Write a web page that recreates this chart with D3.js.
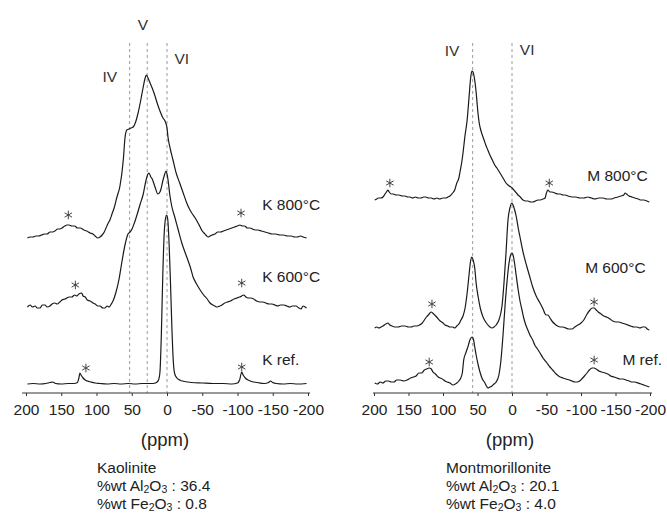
<!DOCTYPE html>
<html>
<head>
<meta charset="utf-8">
<script src="https://cdn.jsdelivr.net/npm/d3@7"></script>
<style>
  html, body { margin: 0; padding: 0; background: #fff; }
  svg { display: block; font-family: "Liberation Sans", Arial, Helvetica, sans-serif; }
</style>
</head>
<body>
<svg id="chart" width="667" height="513"></svg>
<script>
// ---------- DATA ----------
const tickValues = [200, 150, 100, 50, 0, -50, -100, -150, -200];

// Kaolinite spectra: [ppm, intensity]
const kRef = [[198,0],[190,0.5],[180,0],[172,0.5],[166,1.5],[162,2],[158,0.5],[150,0],[140,0.5],[132,0.5],[127,1.5],[125,6],[123.5,11],[122,9],[119,6],[116,4],[113,3],[108,2],[102,1],[95,0.5],[85,0],[75,0.5],[65,0],[55,0.5],[45,0],[35,0.5],[25,0.5],[20,0.5],[15,1.5],[12,4],[10,12],[8,50],[6,108],[4,150],[2,166],[0.5,169],[-1,165],[-3,140],[-5,100],[-7,55],[-9,22],[-11,10],[-14,6],[-18,4],[-25,2.5],[-35,1.5],[-50,1],[-65,0.5],[-80,0.5],[-92,0],[-100,1],[-103,4],[-106,12],[-108,9],[-111,6],[-115,4],[-120,2.5],[-128,1.5],[-138,0.5],[-144,1.5],[-147,3],[-150,1.5],[-155,0.5],[-165,0],[-175,0.5],[-185,0],[-198,0.5]];
const k600 = [[198,0],[194,2],[191,0],[187,1],[184,-1],[180,-1],[177,2],[173,2],[170,0],[166,1],[163,3],[159,4],[156,3],[152,5],[149,7],[145,8],[142,9],[139,10],[135,10],[131,12],[128,11],[125,13],[121,14],[119,11],[116,10],[113,7],[109,6],[105,4],[102,3],[98,1],[95,1],[91,-1],[88,-1],[85,1],[82,0],[79,3],[76.6,6],[72.3,15],[68,28],[64,45],[59.6,62],[55.3,73],[52.5,75],[49.6,78],[46.8,83],[42.6,92],[38,103],[34,112],[30,126],[27,133],[25.5,134],[23,130],[21,128],[17,120],[13,113],[10,115],[8.5,118],[6,126],[4,131],[1.5,136],[0,133],[-1.5,127],[-4,112],[-7,100],[-11,90],[-15.6,78],[-21,64],[-28,50],[-33,40],[-37,30],[-42,23],[-47,17],[-52,12],[-57,8],[-61,4],[-65,2],[-68,1],[-71,0],[-75,1],[-78,2],[-82,4],[-86,5],[-90,6],[-95,8],[-99,9],[-103,10],[-106,11],[-109,12],[-112,10],[-115,9],[-119,9],[-123,8],[-127,6],[-132,5],[-136,5],[-140,4],[-145,3],[-149,3],[-153,2],[-157,1],[-161,2],[-166,2],[-170,1],[-174,0],[-178,1],[-183,1],[-187,-1],[-190,-2],[-193,1],[-196,0],[-198,-1]];
const k800 = [[198,0],[194,1],[190,1],[186,2],[182,2],[178,3],[174,4],[170,4],[166,6],[162,6],[159,7],[155,9],[152,9],[149,10],[145,12],[142,13],[139,13],[135,12],[131,12],[127,10],[123,10],[118,8],[114,7],[109,5],[105,4],[102,2],[98,0],[95,1],[92,3],[89,6],[86.5,10],[84,14],[81,18],[78,24],[75,30],[71,41],[66.7,52],[62,78],[59.6,100],[57,108],[54,109],[51,110],[48,111],[45,115],[41,125],[38,135],[34,150],[31,160],[29.5,163],[27,160],[24,155],[21,150],[17,142],[14,135],[10,127],[5.7,120],[2.8,117],[0,110],[-1.4,101],[-5,88],[-8.5,78],[-13,65],[-18,55],[-23,45],[-28,35],[-32.6,28],[-36,24],[-40,20],[-44,15],[-47,11],[-50,7],[-52.5,5],[-55,3],[-58,1],[-61,2],[-64,3],[-68,4],[-72,6],[-76,6],[-80,7],[-84,8],[-88,9],[-92,10],[-96,11],[-100,12],[-103.5,13],[-107,12],[-110,12],[-114,10],[-118,10],[-121,9],[-125,8],[-129,8],[-134,7],[-139,6],[-144,5],[-149,4],[-154,4],[-160,3],[-165,3],[-171,2],[-176,2],[-181,1],[-185,1],[-189,2],[-193,1],[-198,0]];

// Montmorillonite spectra: [ppm, intensity]
const mRef = [[199,2],[195,1],[191,3],[187,2],[183,4],[179,4],[175,3],[171,3],[167,5],[162,5],[157,4],[152,5],[147,7],[143,8],[139,9],[135,12],[131,12],[127,15],[124,16],[120,17],[117,16],[114.5,13],[111,11],[107,8],[104,7],[101,6],[97,4],[94,3],[90,2],[85.5,0],[82,1],[80,2],[77,4],[75,6],[72,12],[70,25],[67,32],[64,38],[61,45],[58,48],[56,46],[54,38],[52,30],[49,20],[46,12],[43,6],[40,3],[37,-1],[35,-3],[32,-2],[29,-1],[26,1],[23,3],[19,10],[16,25],[13,50],[10,80],[7,105],[4.3,122],[1.4,131],[0,132],[-1.5,130],[-3,125],[-6,110],[-9,95],[-11.6,84],[-14.5,75],[-17,67],[-20,60],[-23,55],[-26,50],[-30,45],[-33,40],[-37,36],[-40.6,32],[-45,27],[-50.7,22],[-55,18],[-59,15],[-64,11],[-69.6,8],[-74,7],[-78,6],[-83,5],[-87,4],[-91,3],[-94,3],[-98,4],[-101,6],[-105,9],[-108.7,12],[-112,15],[-116,17],[-119,17],[-122,16],[-126,14],[-130,13],[-135,12],[-139,11],[-143,9],[-148,8],[-152,7],[-156.5,6],[-161,6],[-165,5],[-170,4],[-174,3],[-178,3],[-182.6,2],[-187,1],[-191,0],[-195,-1],[-199,-2]];
const m600 = [[199,0],[196,1],[193,0],[190,1],[187,2],[183,4],[180,5],[177,3],[174,2],[170,1],[165,1],[160,2],[155,2],[150,1],[146,1],[142,2],[138,2],[134,3],[130,5],[127,8],[124,11],[120,14],[117,16],[115,15],[112,13],[108,10],[104,7],[100,5],[97,3],[93,2],[90,1],[86,1],[83,0],[80,2],[77,4],[74,8],[71,12],[68,20],[65,35],[62,55],[60,67],[58,71],[56,67],[54,60],[52,45],[49,31],[46,20],[42,11],[39,7],[36,4],[32,1],[29,0],[26,1],[23,3],[19,8],[16.5,14],[14.5,22],[11.6,45],[8.7,75],[5.8,108],[3,120],[0,125],[-1.5,123],[-3,120],[-6,112],[-9,100],[-11.6,91],[-16,76],[-21.7,61],[-25,53],[-30,41],[-35,32],[-40.6,25],[-45,19],[-48,14],[-50,13],[-52,13],[-55,10],[-59,6],[-62,4],[-66,2],[-70,1],[-74,1],[-78,0],[-82,-1],[-87,-1],[-91,1],[-95.6,3],[-100,5],[-104,8],[-108,13],[-113,18],[-116,20],[-119,20],[-122,18],[-125,16],[-129,14],[-133,12],[-137,11],[-142,9],[-146,7],[-151,6],[-155,6],[-159,5],[-164,4],[-168,3],[-172,2],[-177,1],[-181,1],[-185.5,0],[-189,1],[-193,1],[-196,-1],[-199,-2]];
const m800 = [[199,0],[196,1],[194,2],[190,2],[187,3],[184,6],[181,9],[180,10],[178,8],[175,6],[172,6],[168,5],[164,5],[159,4],[155,4],[151,3],[148,3],[144,2],[140,3],[136,2],[132,2],[128,3],[125,3],[121,2],[117,2],[113,1],[109,2],[105,1],[100,2],[96,2],[93,3],[90,4],[86,7],[83,10],[80,17],[77,22],[75.4,28],[73,37],[71,47],[69.5,56],[68,65],[66.5,72],[65,80],[63.5,92],[62,105],[60.5,118],[59.4,125],[58,129],[56.5,128],[55,124],[53.5,117],[52,108],[50.5,96],[49,85],[47.5,77],[46,72],[44,67],[42,63],[40,59],[38,55],[35,50],[32,45],[28.5,40],[25,35],[21,31],[17.4,27],[13,22],[8.7,17],[4,14],[0,12],[-4,9],[-8.7,5],[-12,3],[-16,0],[-20,-1],[-23,-1],[-27,-2],[-30,-2],[-34,-1],[-37.7,0],[-41,0],[-45,1],[-48,2],[-49.5,6],[-51,9],[-52,10],[-55,8],[-58,8],[-62,7],[-66.7,6],[-70,6],[-74,5],[-77,5],[-81,4],[-87,3],[-92,3],[-98.5,2],[-104,2],[-110,3],[-115,2],[-120,1],[-126,2],[-132,2],[-137,1],[-143.5,1],[-148,2],[-153.6,3],[-158,4],[-162,5],[-164,7],[-166,6],[-169.6,4],[-174,3],[-178,2],[-183,1],[-187,0],[-191,0],[-195.7,-1],[-199,-2]];

// series names and vertical offsets (stacking)
const kNames = ["K ref.", "K 600°C", "K 800°C"];
const kOffsets = [9, 86, 155];
const mNames = ["M ref.", "M 600°C", "M 800°C"];
const mOffsets = [8, 65, 193];

// reference lines (ppm) and their labels
const kSites = [53, 28, 0];
const kSiteLabels = ["IV", "V", "VI"];
const mSites = [57, 0];
const mSiteLabels = ["IV", "VI"];

// spinning sidebands marked "*": [series index, ppm, height above baseline]
const kStars = [[2,140,23],[2,-105,25],[1,130,22],[1,-106,24],[0,115,16],[0,-106,17]];
const mStars = [[2,177,17],[2,-54,17],[1,116,24],[1,-119,26],[0,120,23],[0,-119,25]];

const kInfo = ["Kaolinite", "36.4", "0.8"];
const mInfo = ["Montmorillonite", "20.1", "4.0"];

// ---------- DRAW ----------
const svg = d3.select("#chart");
svg.append("rect").attr("width", 667).attr("height", 513).attr("fill", "#fff");

const y = d3.scaleLinear().domain([0, 350]).range([393, 43]);

function panel(cfg) {
  const x = d3.scaleLinear().domain([200, -200]).range(cfg.range);
  const g = svg.append("g");

  // dashed site lines
  g.selectAll("line.site").data(cfg.sites).join("line")
    .attr("x1", d => x(d)).attr("x2", d => x(d))
    .attr("y1", y(350)).attr("y2", y(0))
    .attr("stroke", "#9a9a9a").attr("stroke-width", 1)
    .attr("stroke-dasharray", "3,3");

  // site labels
  g.selectAll("text.site").data(cfg.siteLabelPos).join("text")
    .attr("x", d => x(d[0])).attr("y", d => y(d[1]))
    .attr("text-anchor", "middle")
    .attr("font-size", 15.5).attr("fill", "#333")
    .text((d, i) => cfg.siteLabels[i]);

  // spectra
  const line = d3.line()
    .x(d => x(d[0]))
    .y(d => y(d[1]))
    .curve(d3.curveMonotoneX);
  cfg.series.forEach((s, i) => {
    g.append("path")
      .datum(s.map(p => [p[0], p[1] + cfg.offsets[i]]))
      .attr("fill", "none").attr("stroke", "#1a1a1a")
      .attr("stroke-width", 1.2).attr("stroke-linejoin", "round")
      .attr("d", line);
  });

  // series labels
  cfg.names.forEach((n, i) => {
    g.append("text")
      .attr("x", x(cfg.namePos[i][0])).attr("y", y(cfg.namePos[i][1]))
      .attr("font-size", 15.5).attr("fill", "#222")
      .text(n);
  });

  // asterisks
  const r = 4.3;
  cfg.stars.forEach(s => {
    const cx = x(s[1]), cy = y(s[2] + cfg.offsets[s[0]]);
    const star = g.append("g").attr("transform", `translate(${cx},${cy})`);
    [90, 30, -30].forEach(a => {
      const rad = a * Math.PI / 180;
      star.append("line")
        .attr("x1", -r * Math.cos(rad)).attr("y1", -r * Math.sin(rad))
        .attr("x2", r * Math.cos(rad)).attr("y2", r * Math.sin(rad))
        .attr("stroke", "#444").attr("stroke-width", 1);
    });
  });

  // axis
  const axG = g.append("g").attr("transform", `translate(0,${y(0)})`);
  axG.call(d3.axisBottom(x).tickValues(tickValues).tickSize(3).tickPadding(8)
    .tickSizeOuter(0).tickFormat(d => String(d)));
  axG.select(".domain").remove();
  axG.append("line").attr("x1", x(cfg.axisExt[0])).attr("x2", x(cfg.axisExt[1]))
    .attr("stroke", "#333").attr("stroke-width", 1);
  axG.selectAll(".tick line").attr("stroke", "#333");
  axG.selectAll(".tick text").attr("font-size", 15.5).attr("fill", "#222")
    .attr("font-family", "'Liberation Sans', Arial, sans-serif");

  // axis title
  g.append("text").attr("x", x(0) - 2).attr("y", 446)
    .attr("text-anchor", "middle").attr("font-size", 18.5).attr("fill", "#222")
    .text("(ppm)");

  // composition block
  const tx = cfg.infoX;
  const fs = 15.5;
  g.append("text").attr("x", tx).attr("y", 473).attr("font-size", fs).attr("fill", "#222")
    .text(cfg.info[0]);
  const chem = (yy, el, val) => {
    const t = g.append("text").attr("x", tx).attr("y", yy).attr("font-size", fs).attr("fill", "#222");
    t.append("tspan").text("%wt " + el);
    t.append("tspan").attr("dy", 2).attr("font-size", 10.5).text("2");
    t.append("tspan").attr("dy", -2).text("O");
    t.append("tspan").attr("dy", 2).attr("font-size", 10.5).text("3");
    t.append("tspan").attr("dy", -2).text(" : " + val);
  };
  chem(490.5, "Al", cfg.info[1]);
  chem(509, "Fe", cfg.info[2]);
}

panel({
  range: [26, 308],
  series: [kRef, k600, k800],
  offsets: kOffsets,
  names: kNames,
  namePos: [[-135, 28], [-135, 111], [-135, 183]],
  sites: kSites,
  siteLabels: kSiteLabels,
  siteLabelPos: [[81, 311], [34, 363], [-21, 329]],
  stars: kStars,
  axisExt: [205.5, -203],
  info: kInfo,
  infoX: 97
});

panel({
  range: [374, 650],
  series: [mRef, m600, m800],
  offsets: mOffsets,
  names: mNames,
  namePos: [[-160, 28], [-106, 120], [-109, 212]],
  sites: mSites,
  siteLabels: mSiteLabels,
  siteLabelPos: [[87, 337], [-22, 338]],
  stars: mStars,
  axisExt: [201.5, -203],
  info: mInfo,
  infoX: 446
});
</script>
</body>
</html>
